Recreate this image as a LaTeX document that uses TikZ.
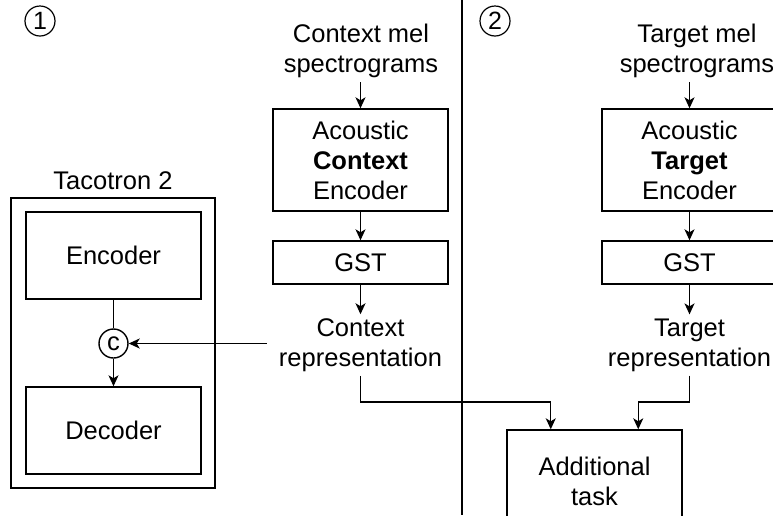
\documentclass[tikz,border=0pt]{standalone}
\usepackage{fontspec}
\setmainfont{Liberation Sans}
\usetikzlibrary{arrows.meta,calc}

\tikzset{
  x=1pt, y=-1pt,
  every node/.style={font=\fontsize{25.5}{30}\selectfont, align=center},
  blk/.style={draw, line width=1.4pt, minimum width=175pt, inner sep=0pt},
  txt/.style={inner xsep=12pt, inner ysep=4pt},
  stepno/.style={draw, circle, line width=1.2pt, minimum size=30pt, inner sep=0pt,
                 font=\fontsize{25}{25}\selectfont},
  arr/.style={line width=1.4pt, -{Stealth[length=11pt,width=10pt,inset=3pt]}},
  ln/.style={line width=1.4pt},
}

\begin{document}
\begin{tikzpicture}
\clip (0,0) rectangle (773,515);
\fill[white] (0,0) rectangle (773,515);

% phase markers and separator
\node[stepno] (num1) at (40,21) {1};
\node[stepno] (num2) at (495,21) {2};
\draw[ln] (462,0) -- (462,515);

% Tacotron 2 block
\node (tacolabel) at (113,181) {Tacotron 2};
\node[blk, minimum width=204pt, minimum height=290pt] (taco) at (113,343) {};
\node[blk, minimum height=87pt] (enc) at (113.5,255.5) {Encoder};
\node[blk, minimum height=87pt] (dec) at (113.5,430.5) {Decoder};
\node[draw, circle, line width=1.4pt, minimum size=29pt, inner sep=0pt] (cat) at (113.5,343.5) {c};

% context branch
\node[txt] (ctxmel) at (361,51) {Context mel\\spectrograms};
\node[blk, minimum height=102pt] (ctxenc) at (360.5,160) {Acoustic\\\textbf{Context}\\Encoder};
\node[blk, minimum height=43pt] (ctxgst) at (360.5,262.5) {GST};
\node[txt] (ctxrep) at (360.5,345) {Context\\representation};

% target branch
\node[txt] (tgtmel) at (697,51) {Target mel\\spectrograms};
\node[blk, minimum height=102pt] (tgtenc) at (689.5,160) {Acoustic\\\textbf{Target}\\Encoder};
\node[blk, minimum height=43pt] (tgtgst) at (689.5,262.5) {GST};
\node[txt] (tgtrep) at (689.5,345) {Target\\representation};

% additional task
\node[blk, minimum height=102pt] (task) at (594.5,481) {Additional\\task};
\coordinate (jc) at (550.75,402);
\coordinate (jt) at (638.25,402);

% connectors
\draw[ln] (enc.south) -- (cat.north);
\draw[arr] (cat.south) -- (dec.north);
\draw[arr] (ctxrep.west |- cat) -- (cat.east);

\draw[arr] (ctxenc.north |- ctxmel.south) -- (ctxenc.north);
\draw[arr] (ctxenc.south) -- (ctxgst.north);
\draw[arr] (ctxgst.south) -- (ctxrep.north -| ctxgst.south);

\draw[arr] (tgtenc.north |- tgtmel.south) -- (tgtenc.north);
\draw[arr] (tgtenc.south) -- (tgtgst.north);
\draw[arr] (tgtgst.south) -- (tgtrep.north -| tgtgst.south);

\draw[arr] (ctxrep.south) |- (jc) -- (jc |- task.north);
\draw[arr] (tgtrep.south) |- (jt) -- (jt |- task.north);
\end{tikzpicture}
\end{document}
